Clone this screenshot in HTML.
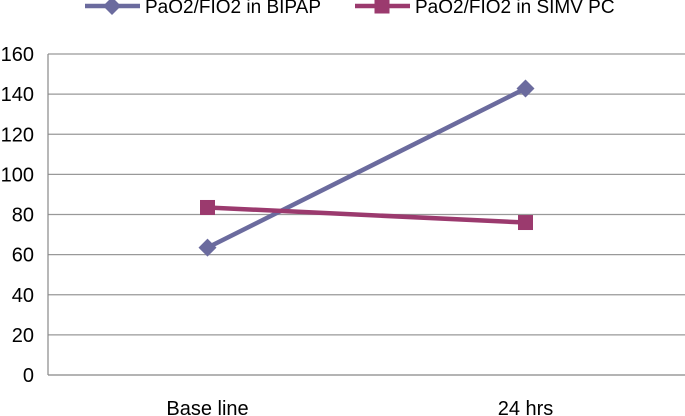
<!DOCTYPE html>
<html><head><meta charset="utf-8"><style>
html,body{margin:0;padding:0;background:#fff;}
svg{display:block;font-family:"Liberation Sans",sans-serif;}
</style></head><body>
<svg id="chart" width="685" height="416"></svg>
<script>
const categories=["Base line","24 hrs"];
const bipap=[63.5,142.8];
const simv=[83.5,76];
const yTicks=[0,20,40,60,80,100,120,140,160];
const seriesNames=["PaO2/FIO2 in BIPAP","PaO2/FIO2 in SIMV PC"];

const NS="http://www.w3.org/2000/svg";
const svg=document.getElementById('chart');
const x0=48,bandW=318,yBottom=375,yTop=54;
const yScale=v=>yBottom-(v/160)*(yBottom-yTop);
const xScale=i=>x0+bandW*(i+0.5)+0.5;
function mk(tag,attrs){const e=document.createElementNS(NS,tag);for(const k in attrs)e.setAttribute(k,attrs[k]);svg.appendChild(e);return e;}

yTicks.forEach(t=>{
  const y=yScale(t);
  const g=mk('line',{x1:x0,x2:685,y1:y,y2:y,stroke:t===0?'#888':'#999','stroke-width':1.2});
  
  
  const l=mk('text',{x:34,y:y+7,'text-anchor':'end','font-size':20,fill:'#000'});
  l.textContent=t;
  
  
});
const ax=mk('line',{x1:x0,x2:x0,y1:yTop,y2:yBottom,stroke:'#888','stroke-width':1.2});


categories.forEach((c,i)=>{
  const t=mk('text',{x:xScale(i),y:415,'text-anchor':'middle','font-size':20,fill:'#000'});
  t.textContent=c;
  
  
});
function diamond(cx,cy,r,color){return mk('polygon',{points:`${cx},${cy-r} ${cx+r},${cy} ${cx},${cy+r} ${cx-r},${cy}`,fill:color});}
function square(cx,cy,r,color){return mk('rect',{x:cx-r,y:cy-r,width:2*r,height:2*r,fill:color});}
const series=[{vals:bipap,color:'#6b6b9e',marker:diamond,r:9},{vals:simv,color:'#9b3a6e',marker:square,r:7.5}];
series.forEach((s,si)=>{
  const pts=s.vals.map((v,i)=>`${xScale(i)},${yScale(v)}`).join(' ');
  const pl=mk('polyline',{points:pts,fill:'none',stroke:s.color,'stroke-width':4.5});
  
  
  s.vals.forEach((v,i)=>{
    const m=s.marker(xScale(i),yScale(v),s.r,s.color);
    
    
  });
});
const legX=[85,355];
series.forEach((s,si)=>{
  const lx=legX[si],ly=6;
  const ln=mk('line',{x1:lx,x2:lx+55,y1:ly,y2:ly,stroke:s.color,'stroke-width':4.5});
  
  
  const m=s.marker(lx+27,ly,s.r,s.color);
  
  
  const t=mk('text',{x:lx+60,y:ly+7,'font-size':19,fill:'#000'});
  t.textContent=seriesNames[si];
  
  
});
</script>
</body></html>
